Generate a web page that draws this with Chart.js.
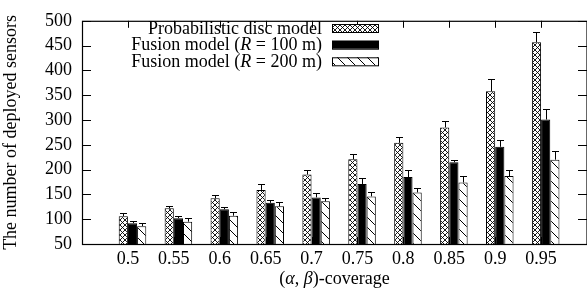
<!DOCTYPE html>
<html><head><meta charset="utf-8">
<script src="https://cdn.jsdelivr.net/npm/chart.js@4.4.1/dist/chart.umd.min.js"></script>
<style>html,body{margin:0;padding:0;background:#fff}#wrap{width:587px;height:297px}</style>
</head><body><div id="wrap"><canvas id="c" width="587" height="297"></canvas></div>
<script>
// ---- data ----
const coverage = [0.5, 0.55, 0.6, 0.65, 0.7, 0.75, 0.8, 0.85, 0.9, 0.95];
const tickLabels = ['0.5', '0.55', '0.6', '0.65', '0.7', '0.75', '0.8', '0.85', '0.9', '0.95'];
const yTicks = [50, 100, 150, 200, 250, 300, 350, 400, 450, 500];
const discModel    = [106, 122, 142, 159, 190, 221, 254, 285, 358, 457];
const discErr      = [6, 4, 6, 11, 10, 10, 12, 12, 24, 20];
const fusion100    = [92, 102, 120, 133, 144, 171, 185, 215, 246, 301];
const fusion100Err = [5, 4, 4, 6, 8, 13, 15, 5, 14, 22];
const fusion200    = [86, 95, 107, 126, 136, 146, 154, 174, 187, 220];
const fusion200Err = [7, 8, 8, 8, 7, 9, 9, 14, 13, 18];
const seriesNames = ['Probabilistic disc model', 'Fusion model (R = 100 m)', 'Fusion model (R = 200 m)'];
const legendSegments = [
  [['Probabilistic disc model', false]],
  [['Fusion model (', false], ['R', true], [' = 100 m)', false]],
  [['Fusion model (', false], ['R', true], [' = 200 m)', false]]
];
const xTitleSegments = [['(', false], ['α', true], [', ', false], ['β', true], [')-coverage', false]];
const errors = [discErr, fusion100Err, fusion200Err];

const FONT = 'Liberation Serif';
const canvas = document.getElementById('c');
const ctx = canvas.getContext('2d');

function crossPattern() {
  const s = 5;
  const c = document.createElement('canvas'); c.width = s; c.height = s;
  const g = c.getContext('2d');
  g.fillStyle = '#fff'; g.fillRect(0, 0, s, s);
  g.strokeStyle = '#000'; g.lineWidth = 0.9;
  g.beginPath();
  g.moveTo(-1, -1); g.lineTo(s + 1, s + 1);
  g.moveTo(s + 1, -1); g.lineTo(-1, s + 1);
  g.stroke();
  return ctx.createPattern(c, 'repeat');
}
function hatchPattern() {
  const s = 10;
  const c = document.createElement('canvas'); c.width = s; c.height = s;
  const g = c.getContext('2d');
  g.fillStyle = '#fff'; g.fillRect(0, 0, s, s);
  g.strokeStyle = '#000'; g.lineWidth = 1;
  g.beginPath();
  g.moveTo(-1, -1); g.lineTo(s + 1, s + 1);
  g.moveTo(-1, s - 1); g.lineTo(1, s + 1);
  g.moveTo(s - 1, -1); g.lineTo(s + 1, 1);
  g.stroke();
  return ctx.createPattern(c, 'repeat');
}
const fills = [crossPattern(), '#000', hatchPattern()];

function pts(vals) { return coverage.map((c, i) => ({ x: c, y: vals[i] })); }

function drawSegments(g, segs, x, y, align) {
  let total = 0;
  const widths = segs.map(([t, it]) => { g.font = (it ? 'italic ' : '') + '18px "' + FONT + '"'; const w = g.measureText(t).width; total += w; return w; });
  let cx = align === 'right' ? x - total : (align === 'center' ? x - total / 2 : x);
  g.textAlign = 'left';
  segs.forEach(([t, it], i) => { g.font = (it ? 'italic ' : '') + '18px "' + FONT + '"'; g.fillText(t, cx, y); cx += widths[i]; });
}

const framePlugin = {
  id: 'frame',
  beforeDatasetsDraw(chart) {
    const g = chart.ctx, a = chart.chartArea, xs = chart.scales.x, ys = chart.scales.y;
    g.save(); g.strokeStyle = '#000'; g.lineWidth = 1; g.beginPath();
    xs.ticks.forEach(t => {
      const px = Math.round(xs.getPixelForValue(t.value)) + 0.5;
      g.moveTo(px, a.top); g.lineTo(px, a.top + 7);
      g.moveTo(px, a.bottom); g.lineTo(px, a.bottom - 7);
    });
    ys.ticks.forEach(t => {
      const py = Math.round(ys.getPixelForValue(t.value)) + 0.5;
      g.moveTo(a.left, py); g.lineTo(a.left + 9, py);
      g.moveTo(a.right, py); g.lineTo(a.right - 9, py);
    });
    g.stroke(); g.restore();
  },
  afterDatasetsDraw(chart) {
    const g = chart.ctx, a = chart.chartArea, ys = chart.scales.y;
    g.save();
    g.strokeStyle = '#000'; g.lineWidth = 1;
    // error bars
    chart.data.datasets.forEach((ds, di) => {
      const meta = chart.getDatasetMeta(di);
      meta.data.forEach((bar, j) => {
        const v = ds.data[j].y, e = errors[di][j];
        const x = Math.round(bar.x) + 0.5;
        const y0 = ys.getPixelForValue(v), y1 = Math.round(ys.getPixelForValue(v + e)) + 0.5;
        g.beginPath(); g.moveTo(x, y0); g.lineTo(x, y1);
        g.moveTo(x - 3.5, y1); g.lineTo(x + 3.5, y1); g.stroke();
      });
    });
    // border box
    g.lineWidth = 1.2;
    g.strokeRect(a.left + 0.5, a.top + 0.5, a.right - a.left - 0.5, a.bottom - a.top);
    // legend
    g.fillStyle = '#000';
    const rows = [28, 44.7, 61.3];
    rows.forEach((cy, i) => {
      g.textBaseline = 'alphabetic';
      drawSegments(g, legendSegments[i], 322, cy + 5.5, 'right');
      g.fillStyle = fills[i];
      g.fillRect(332, cy - 4, 47, 8);
      g.lineWidth = 1; g.strokeStyle = '#000';
      g.strokeRect(332.5, cy - 3.5, 46, 8);
      g.fillStyle = '#000';
    });
    // x title
    drawSegments(g, xTitleSegments, (a.left + a.right) / 2, 284, 'center');
    g.restore();
  }
};

const tickFont = { family: FONT, size: 18 };
new Chart(canvas, {
  type: 'bar',
  data: {
    datasets: seriesNames.map((n, i) => ({
      label: n,
      data: pts([discModel, fusion100, fusion200][i]),
      xAxisID: 'xb',
      backgroundColor: fills[i],
      borderColor: '#000',
      borderWidth: 1,
      categoryPercentage: 0.6,
      barPercentage: 1.0
    }))
  },
  options: {
    responsive: false,
    animation: false,
    devicePixelRatio: 1,
    layout: { padding: { top: 12, left: 0, right: 0, bottom: 0 } },
    plugins: { legend: { display: false }, tooltip: { enabled: false } },
    scales: {
      x: {
        type: 'linear', position: 'bottom', min: 0.45, max: 1.0, offset: false,
        grid: { display: false, drawTicks: false, offset: false }, border: { display: false },
        afterBuildTicks: s => { s.ticks = coverage.map(v => ({ value: v })); },
        ticks: { color: '#000', font: tickFont, padding: 4, maxRotation: 0, autoSkip: false,
          callback: (v, i) => tickLabels[i] },
        afterFit: s => { s.height = 53; }
      },
      xb: {
        type: 'linear', display: false, min: 0.45 - 0.005, max: 1.0 - 0.005, offset: false,
        grid: { display: false, offset: false }
      },
      y: {
        type: 'linear', min: 50, max: 500,
        grid: { display: false, drawTicks: false }, border: { display: false },
        afterBuildTicks: s => { s.ticks = yTicks.map(v => ({ value: v })); },
        ticks: { color: '#000', font: tickFont, padding: 10 },
        title: { display: true, text: 'The number of deployed sensors', color: '#000', font: tickFont, padding: 0 },
        afterFit: s => { s.width = 82; }
      }
    }
  },
  plugins: [framePlugin]
});
</script>
</body></html>
